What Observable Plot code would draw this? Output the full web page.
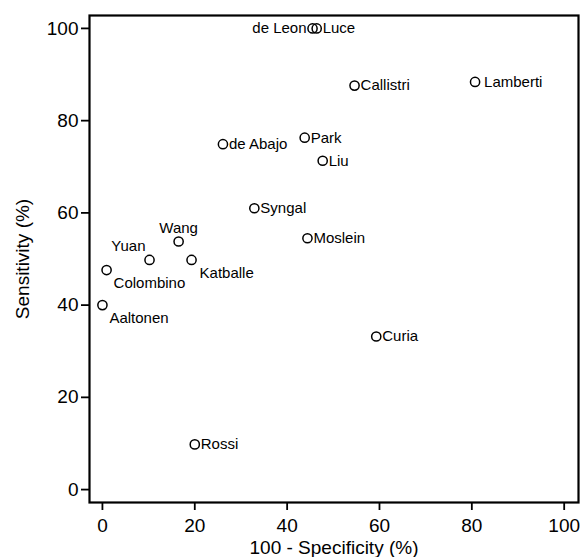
<!DOCTYPE html>
<html>
<head>
<meta charset="utf-8">
<script src="https://cdn.jsdelivr.net/npm/d3@7"></script>
<script src="https://cdn.jsdelivr.net/npm/@observablehq/plot@0.6"></script>
<style>
  html, body { margin: 0; padding: 0; background: #fff; }
  #chart svg { display: block; }
</style>
</head>
<body>
<div id="chart"></div>
<script>
// Data
const studies = ["de Leon", "Luce", "Callistri", "Lamberti", "Park", "Liu", "de Abajo", "Syngal", "Moslein", "Wang", "Yuan", "Katballe", "Colombino", "Aaltonen", "Curia", "Rossi"];
const fpr = [45.5, 46.4, 54.6, 80.7, 43.8, 47.7, 26.1, 32.9, 44.4, 16.5, 10.2, 19.3, 0.9, 0.0, 59.3, 20.0];   // 100 - Specificity (%)
const sensitivity = [100, 100, 87.6, 88.4, 76.3, 71.3, 74.9, 61.0, 54.5, 53.8, 49.8, 49.8, 47.6, 40.0, 33.2, 9.8];
const xTicks = [0, 20, 40, 60, 80, 100];
const yTicks = [0, 20, 40, 60, 80, 100];
const xLabel = "100 - Specificity (%)";
const yLabel = "Sensitivity (%)";

// Label placement (style only)
const placement = {
  "de Leon": {anchor: "end", dx: -6, dy: 0},
  "Lamberti": {anchor: "start", dx: 9, dy: 0},
  "Wang": {anchor: "middle", dx: 0, dy: -13},
  "Yuan": {anchor: "end", dx: -4, dy: -14},
  "Katballe": {anchor: "start", dx: 8, dy: 13},
  "Colombino": {anchor: "start", dx: 7, dy: 13},
  "Aaltonen": {anchor: "start", dx: 7, dy: 13}
};
const defaultPlacement = {anchor: "start", dx: 6, dy: 0};

const data = studies.map((name, i) => ({name, x: fpr[i], y: sensitivity[i], ...(placement[name] || defaultPlacement)}));
const groups = d3.groups(data, d => `${d.anchor}|${d.dx}|${d.dy}`);

const font = "Liberation Sans, Arial, Helvetica, sans-serif";

const chart = Plot.plot({
  width: 582,
  height: 557,
  marginLeft: 89,
  marginRight: 4,
  marginTop: 15,
  marginBottom: 55,
  style: {fontFamily: font, background: "#fff", color: "#000"},
  x: {domain: [-2.8, 103.1]},
  y: {domain: [-2.8, 102.8]},
  marks: [
    Plot.axisX({ticks: xTicks, tickSize: 8, tickPadding: 8, fontSize: 19, label: null, strokeWidth: 1.8}),
    Plot.axisY({ticks: yTicks, tickSize: 8, tickPadding: 3, fontSize: 19, label: null, strokeWidth: 1.8}),
    Plot.frame({stroke: "#000", strokeWidth: 2.2}),
    Plot.dot(data, {x: "x", y: "y", r: 4.6, stroke: "#000", strokeWidth: 1.5, fill: "none"}),
    ...groups.map(([key, rows]) => Plot.text(rows, {
      x: "x", y: "y", text: "name",
      textAnchor: rows[0].anchor, dx: rows[0].dx, dy: rows[0].dy,
      fontSize: 15, fill: "#000", style: {letterSpacing: "0.5px"}
    })),
    Plot.text([xLabel], {frameAnchor: "bottom", lineAnchor: "middle", textAnchor: "middle", dy: 45, text: d => d, fontSize: 19, fill: "#000", style: {letterSpacing: "0.3px"}}),
    Plot.text([yLabel], {frameAnchor: "left", lineAnchor: "middle", textAnchor: "middle", dx: -67, rotate: -90, text: d => d, fontSize: 19, fill: "#000", style: {letterSpacing: "0.3px"}})
  ]
});

document.getElementById("chart").append(chart);
</script>
</body>
</html>
